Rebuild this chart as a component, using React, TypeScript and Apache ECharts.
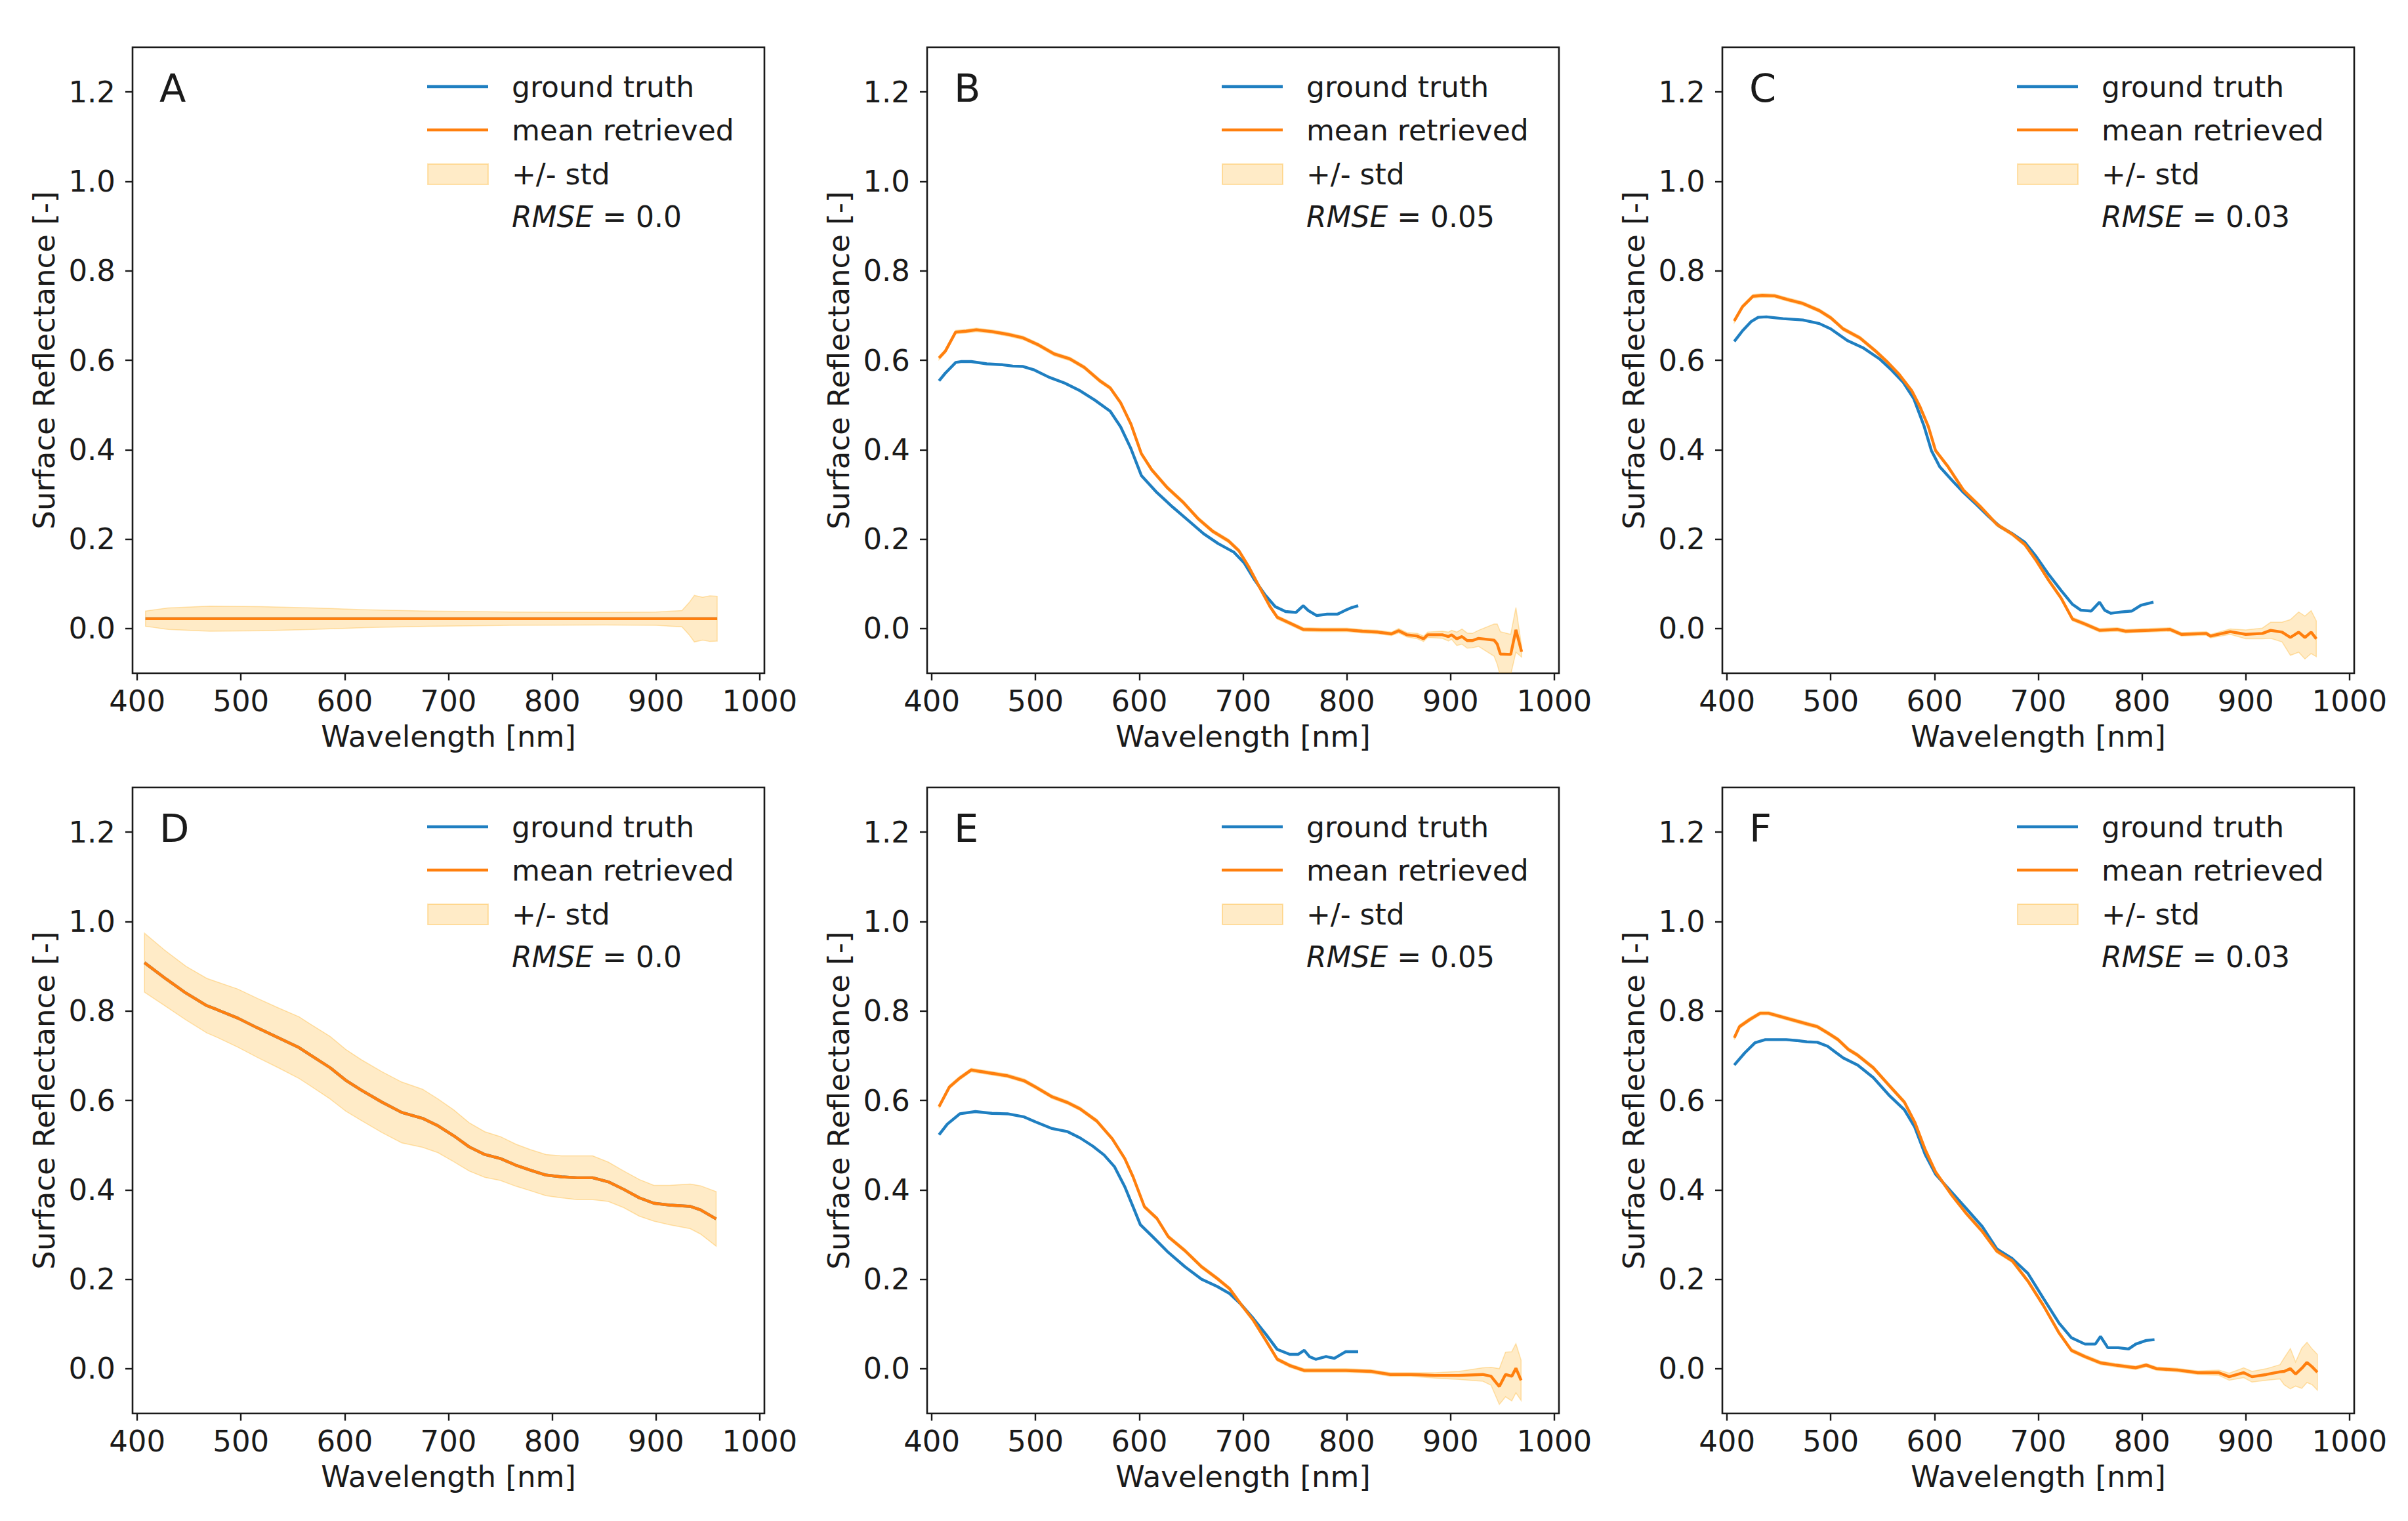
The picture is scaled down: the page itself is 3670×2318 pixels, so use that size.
import React, { useEffect, useRef } from "react";
import * as echarts from "echarts";

// ---------------- data ----------------
const xTicks = [400, 500, 600, 700, 800, 900, 1000];
const yTicks = [0, 0.2, 0.4, 0.6, 0.8, 1.0, 1.2];
const letters = ["A", "B", "C", "D", "E", "F"];
const rmseLabels = ["0.0", "0.05", "0.03", "0.0", "0.05", "0.03"];
const legendLabels = ["ground truth", "mean retrieved", "+/- std"];

// A
const wlA = [408, 430, 470, 520, 570, 620, 680, 760, 850, 900, 925, 932, 937, 945, 952, 959];
const meanA = [0.022, 0.022, 0.022, 0.022, 0.022, 0.022, 0.022, 0.022, 0.022, 0.022, 0.022, 0.022, 0.022, 0.022, 0.022, 0.022];
const stdA = [0.017, 0.024, 0.028, 0.027, 0.024, 0.02, 0.017, 0.015, 0.014, 0.015, 0.018, 0.036, 0.052, 0.048, 0.051, 0.05];
const wlTruthA = wlA;
const truthA = meanA;

// B
const wlB = [407, 413, 423, 433, 443, 458, 473, 488, 503, 518, 533, 547, 562, 572, 582, 592, 602, 612, 627, 642, 657, 671, 686, 696, 706, 716, 726, 733, 746, 758, 776, 800, 815, 830, 843, 850, 858, 868, 874, 878, 892, 898, 901, 906, 911, 916, 921, 927, 942, 945, 948, 958, 963, 968.5];
const meanB = [0.605, 0.62, 0.663, 0.665, 0.668, 0.664, 0.658, 0.65, 0.634, 0.614, 0.603, 0.584, 0.554, 0.538, 0.505, 0.457, 0.391, 0.355, 0.315, 0.283, 0.245, 0.217, 0.196, 0.174, 0.136, 0.092, 0.049, 0.025, 0.011, -0.002, -0.003, -0.003, -0.006, -0.008, -0.012, -0.005, -0.014, -0.017, -0.023, -0.014, -0.014, -0.018, -0.014, -0.023, -0.018, -0.027, -0.027, -0.022, -0.026, -0.035, -0.057, -0.058, -0.003, -0.052];
const stdB = [0.004, 0.004, 0.004, 0.004, 0.004, 0.004, 0.004, 0.004, 0.004, 0.004, 0.004, 0.004, 0.004, 0.004, 0.004, 0.004, 0.004, 0.004, 0.004, 0.004, 0.004, 0.004, 0.004, 0.004, 0.004, 0.004, 0.004, 0.004, 0.004, 0.004, 0.004, 0.004, 0.004, 0.004, 0.004, 0.005, 0.005, 0.006, 0.006, 0.006, 0.008, 0.01, 0.01, 0.015, 0.017, 0.017, 0.016, 0.018, 0.036, 0.045, 0.05, 0.045, 0.05, 0.012];
const wlTruthB = [407, 413, 423, 428, 438, 453, 468, 478, 488, 498, 513, 528, 542, 557, 572, 582, 592, 602, 617, 632, 647, 662, 676, 691, 701, 711, 721, 731, 741, 751, 758, 763, 771, 781, 791, 798, 805, 811];
const truthB = [0.554, 0.571, 0.595, 0.597, 0.597, 0.592, 0.59, 0.587, 0.586, 0.579, 0.562, 0.549, 0.533, 0.511, 0.486, 0.451, 0.402, 0.342, 0.304, 0.272, 0.242, 0.212, 0.19, 0.171, 0.147, 0.109, 0.076, 0.049, 0.038, 0.036, 0.051, 0.04, 0.029, 0.032, 0.032, 0.04, 0.047, 0.051];

// C
const wlC = [407, 415, 425, 434, 446, 458, 473, 489, 500, 512, 528, 543, 555, 566, 578, 586, 594, 601, 613, 628, 644, 660, 675, 687, 698, 710, 722, 733, 745, 759, 776, 784, 807, 827, 838, 862, 866, 885, 900, 916, 924, 935, 943, 951, 957, 963, 968];
const meanC = [0.688, 0.72, 0.743, 0.745, 0.744, 0.736, 0.727, 0.711, 0.695, 0.67, 0.65, 0.621, 0.595, 0.568, 0.532, 0.496, 0.452, 0.398, 0.362, 0.309, 0.273, 0.233, 0.211, 0.188, 0.152, 0.108, 0.068, 0.021, 0.01, -0.004, -0.002, -0.006, -0.004, -0.002, -0.013, -0.011, -0.017, -0.007, -0.013, -0.011, -0.004, -0.008, -0.02, -0.008, -0.02, -0.008, -0.023];
const stdC = [0.004, 0.004, 0.004, 0.004, 0.004, 0.004, 0.004, 0.004, 0.004, 0.004, 0.004, 0.004, 0.004, 0.004, 0.004, 0.004, 0.004, 0.004, 0.004, 0.004, 0.004, 0.004, 0.004, 0.004, 0.004, 0.004, 0.004, 0.004, 0.004, 0.004, 0.004, 0.004, 0.004, 0.004, 0.004, 0.004, 0.004, 0.006, 0.01, 0.012, 0.018, 0.022, 0.04, 0.045, 0.048, 0.048, 0.04];
const wlTruthC = [407, 415, 423, 430, 438, 454, 473, 489, 500, 516, 531, 547, 559, 570, 580, 590, 597, 605, 617, 628, 640, 652, 663, 675, 687, 698, 710, 722, 733, 741, 751, 759, 764, 770, 780, 790, 799, 811];
const truthC = [0.642, 0.666, 0.686, 0.696, 0.697, 0.693, 0.69, 0.682, 0.67, 0.644, 0.628, 0.603, 0.577, 0.55, 0.514, 0.452, 0.398, 0.362, 0.331, 0.304, 0.278, 0.251, 0.228, 0.212, 0.193, 0.161, 0.121, 0.085, 0.054, 0.041, 0.039, 0.059, 0.041, 0.034, 0.037, 0.039, 0.052, 0.059];

// D
const wlD = [407, 427, 447, 467, 477, 497, 516, 536, 556, 566, 586, 601, 616, 636, 655, 675, 690, 705, 720, 735, 750, 765, 779, 794, 809, 824, 839, 854, 869, 884, 898, 913, 933, 943, 958];
const meanD = [0.908, 0.873, 0.84, 0.812, 0.803, 0.784, 0.762, 0.74, 0.718, 0.703, 0.673, 0.645, 0.623, 0.596, 0.573, 0.56, 0.543, 0.521, 0.496, 0.479, 0.47, 0.455, 0.444, 0.433, 0.429, 0.427, 0.427, 0.418, 0.401, 0.382, 0.37, 0.366, 0.363, 0.355, 0.335];
const stdD = [0.066, 0.062, 0.06, 0.061, 0.062, 0.065, 0.066, 0.067, 0.069, 0.069, 0.07, 0.069, 0.068, 0.068, 0.068, 0.065, 0.06, 0.058, 0.054, 0.051, 0.049, 0.047, 0.046, 0.046, 0.047, 0.049, 0.049, 0.044, 0.041, 0.041, 0.04, 0.044, 0.05, 0.054, 0.061];
const wlTruthD = wlD;
const truthD = meanD;

// E
const wlE = [407, 417, 427, 438, 454, 473, 489, 500, 516, 531, 543, 559, 574, 586, 594, 605, 617, 628, 644, 660, 675, 687, 698, 710, 722, 733, 745, 759, 776, 799, 823, 842, 862, 885, 908, 931, 939, 947, 953, 959, 963, 968];
const meanE = [0.586, 0.63, 0.65, 0.668, 0.662, 0.655, 0.644, 0.63, 0.608, 0.595, 0.581, 0.554, 0.514, 0.47, 0.429, 0.362, 0.336, 0.295, 0.264, 0.228, 0.202, 0.179, 0.144, 0.108, 0.063, 0.021, 0.007, -0.004, -0.004, -0.004, -0.006, -0.013, -0.013, -0.015, -0.015, -0.013, -0.017, -0.04, -0.013, -0.017, 0.001, -0.026];
const stdE = [0.004, 0.004, 0.004, 0.004, 0.004, 0.004, 0.004, 0.004, 0.004, 0.004, 0.004, 0.004, 0.004, 0.004, 0.004, 0.004, 0.004, 0.004, 0.004, 0.004, 0.004, 0.004, 0.004, 0.004, 0.004, 0.004, 0.004, 0.004, 0.004, 0.004, 0.004, 0.004, 0.004, 0.006, 0.009, 0.015, 0.02, 0.04, 0.05, 0.055, 0.055, 0.045];
const wlTruthE = [407, 415, 427, 442, 458, 473, 489, 500, 516, 531, 543, 555, 566, 576, 586, 594, 601, 613, 628, 644, 660, 675, 687, 698, 710, 722, 733, 745, 753, 759, 764, 770, 780, 788, 799, 811];
const truthE = [0.523, 0.547, 0.57, 0.575, 0.571, 0.57, 0.563, 0.552, 0.537, 0.53, 0.516, 0.498, 0.478, 0.452, 0.407, 0.362, 0.322, 0.295, 0.26, 0.228, 0.2, 0.184, 0.168, 0.144, 0.112, 0.077, 0.043, 0.032, 0.032, 0.041, 0.027, 0.021, 0.027, 0.023, 0.038, 0.038];

// F
const wlF = [407, 412, 422, 432, 440, 457, 477, 487, 497, 507, 517, 526, 541, 556, 571, 581, 591, 601, 616, 631, 646, 660, 675, 690, 705, 720, 732, 745, 760, 774, 794, 804, 814, 834, 854, 874, 884, 898, 906, 920, 933, 937, 943, 948, 954, 959, 964, 969];
const meanF = [0.74, 0.765, 0.781, 0.795, 0.795, 0.784, 0.771, 0.765, 0.751, 0.736, 0.714, 0.701, 0.673, 0.634, 0.596, 0.551, 0.49, 0.44, 0.39, 0.346, 0.307, 0.263, 0.241, 0.196, 0.141, 0.08, 0.041, 0.027, 0.013, 0.008, 0.002, 0.008, 0.0, -0.003, -0.009, -0.009, -0.018, -0.009, -0.018, -0.013, -0.007, -0.006, 0.0, -0.012, 0.001, 0.014, 0.004, -0.008];
const stdF = [0.004, 0.004, 0.004, 0.004, 0.004, 0.004, 0.004, 0.004, 0.004, 0.004, 0.004, 0.004, 0.004, 0.004, 0.004, 0.004, 0.004, 0.004, 0.004, 0.004, 0.004, 0.004, 0.004, 0.004, 0.004, 0.004, 0.004, 0.004, 0.004, 0.004, 0.004, 0.004, 0.004, 0.004, 0.004, 0.006, 0.008, 0.011, 0.012, 0.013, 0.016, 0.03, 0.045, 0.027, 0.045, 0.045, 0.04, 0.04];
const wlTruthF = [407, 417, 427, 437, 457, 467, 477, 487, 497, 512, 526, 541, 556, 571, 581, 591, 601, 616, 631, 646, 660, 675, 690, 705, 720, 732, 745, 755, 760, 767, 777, 787, 794, 804, 812];
const truthF = [0.679, 0.706, 0.729, 0.736, 0.736, 0.734, 0.731, 0.73, 0.721, 0.695, 0.679, 0.651, 0.612, 0.579, 0.54, 0.479, 0.435, 0.396, 0.357, 0.318, 0.268, 0.246, 0.213, 0.157, 0.102, 0.069, 0.055, 0.055, 0.072, 0.047, 0.047, 0.044, 0.055, 0.063, 0.065];

const panelData = [
  { wl: wlA, mean: meanA, std: stdA, wlT: wlTruthA, truth: truthA },
  { wl: wlB, mean: meanB, std: stdB, wlT: wlTruthB, truth: truthB },
  { wl: wlC, mean: meanC, std: stdC, wlT: wlTruthC, truth: truthC },
  { wl: wlD, mean: meanD, std: stdD, wlT: wlTruthD, truth: truthD },
  { wl: wlE, mean: meanE, std: stdE, wlT: wlTruthE, truth: truthE },
  { wl: wlF, mean: meanF, std: stdF, wlT: wlTruthF, truth: truthF },
];

// ---------------- layout & style ----------------
const COL_LEFT = [202, 1413, 2625];
const ROW_TOP = [72, 1200];
const GW = 963;
const GH = 954;
const X_MIN = 395.5;
const X_MAX = 1004.5;
const Y_MIN = -0.1;
const Y_MAX = 1.3;
const FONT = "DejaVu Sans";
const FS = 45;
const INK = "#1a1a1a";
const BLUE = "#1f7fc1";
const ORANGE = "#ff7f0e";
const BAND = "rgba(255,165,0,0.22)";
const BAND_EDGE = "rgba(255,165,0,0.3)";
const LW = 4.4;

function buildOption() {
  const grid: any[] = [];
  const xAxis: any[] = [];
  const yAxis: any[] = [];
  const series: any[] = [];
  const graphic: any[] = [];

  panelData.forEach((p, i) => {
    const left = COL_LEFT[i % 3];
    const top = ROW_TOP[Math.floor(i / 3)];
    grid.push({
      left,
      top,
      width: GW,
      height: GH,
      show: true,
      borderColor: INK,
      borderWidth: 2.6,
      backgroundColor: "transparent",
      containLabel: false,
      outerBoundsMode: "none",
    });
    xAxis.push({
      type: "value",
      gridIndex: i,
      position: "bottom",
      min: X_MIN,
      max: X_MAX,
      name: "Wavelength [nm]",
      nameLocation: "middle",
      nameGap: 74,
      nameTextStyle: { fontFamily: FONT, fontSize: FS, color: INK },
      axisLine: { show: false, onZero: false },
      splitLine: { show: false },
      axisTick: {
        show: true,
        inside: false,
        length: 11,
        lineStyle: { color: INK, width: 2.4 },
        customValues: xTicks,
      },
      axisLabel: {
        fontFamily: FONT,
        fontSize: FS,
        color: INK,
        margin: 20,
        customValues: xTicks,
        formatter: (v: number) => String(v),
      },
    });
    yAxis.push({
      type: "value",
      gridIndex: i,
      position: "left",
      min: Y_MIN,
      max: Y_MAX,
      name: "Surface Reflectance [-]",
      nameLocation: "middle",
      nameRotate: 90,
      nameGap: 112,
      nameTextStyle: { fontFamily: FONT, fontSize: FS, color: INK },
      axisLine: { show: false, onZero: false },
      splitLine: { show: false },
      axisTick: {
        show: true,
        inside: false,
        length: 11,
        lineStyle: { color: INK, width: 2.4 },
        customValues: yTicks,
      },
      axisLabel: {
        fontFamily: FONT,
        fontSize: FS,
        color: INK,
        margin: 26,
        customValues: yTicks,
        formatter: (v: number) => v.toFixed(1),
      },
    });

    // +/- std band as one polygon (custom series, clipped to the grid)
    const bandRows = p.wl.map((w, j) => [w, p.mean[j] - p.std[j], p.mean[j] + p.std[j]]);
    series.push({
      type: "custom",
      name: "+/- std",
      xAxisIndex: i,
      yAxisIndex: i,
      clip: true,
      silent: true,
      z: 1,
      data: bandRows,
      encode: { x: 0, y: [1, 2] },
      renderItem: (params: any, api: any) => {
        if (params.dataIndex !== 0) return null;
        const upper = bandRows.map((r) => api.coord([r[0], r[2]]));
        const lower = bandRows.map((r) => api.coord([r[0], r[1]])).reverse();
        const cs = params.coordSys;
        return {
          type: "polygon",
          shape: { points: upper.concat(lower) },
          style: { fill: BAND, stroke: BAND_EDGE, lineWidth: 1.5 },
          clipPath: {
            type: "rect",
            shape: { x: cs.x, y: cs.y, width: cs.width, height: cs.height },
          },
        };
      },
    });
    series.push({
      type: "line",
      name: "ground truth",
      xAxisIndex: i,
      yAxisIndex: i,
      data: p.wlT.map((w, j) => [w, p.truth[j]]),
      symbol: "none",
      showSymbol: false,
      silent: true,
      lineStyle: { color: BLUE, width: LW },
      z: 2,
    });
    series.push({
      type: "line",
      name: "mean retrieved",
      xAxisIndex: i,
      yAxisIndex: i,
      data: p.wl.map((w, j) => [w, p.mean[j]]),
      symbol: "none",
      showSymbol: false,
      silent: true,
      lineStyle: { color: ORANGE, width: LW },
      z: 3,
    });

    // panel letter
    graphic.push({
      type: "text",
      x: left + 41,
      y: top + 62,
      silent: true,
      style: {
        text: letters[i],
        fontFamily: FONT,
        fontSize: 59,
        fill: INK,
        align: "left",
        verticalAlign: "middle",
      },
    });
    // legend handles
    graphic.push({
      type: "line",
      silent: true,
      shape: { x1: left + 449, y1: top + 60, x2: left + 542, y2: top + 60 },
      style: { stroke: BLUE, lineWidth: LW },
    });
    graphic.push({
      type: "line",
      silent: true,
      shape: { x1: left + 449, y1: top + 126, x2: left + 542, y2: top + 126 },
      style: { stroke: ORANGE, lineWidth: LW },
    });
    graphic.push({
      type: "rect",
      silent: true,
      shape: { x: left + 450, y: top + 178, width: 92, height: 31 },
      style: { fill: BAND, stroke: BAND_EDGE, lineWidth: 2 },
    });
    const rowsY = [60, 126, 193];
    legendLabels.forEach((t, k) => {
      graphic.push({
        type: "text",
        x: left + 578,
        y: top + rowsY[k],
        silent: true,
        style: {
          text: t,
          fontFamily: FONT,
          fontSize: 44,
          fill: INK,
          align: "left",
          verticalAlign: "middle",
        },
      });
    });
    graphic.push({
      type: "text",
      x: left + 578,
      y: top + 258,
      silent: true,
      style: {
        text: "{i|RMSE}{n| = " + rmseLabels[i] + "}",
        fontFamily: FONT,
        fontSize: 44,
        fill: INK,
        align: "left",
        verticalAlign: "middle",
        rich: {
          i: { fontFamily: FONT, fontSize: 44, fontStyle: "italic", fill: INK },
          n: { fontFamily: FONT, fontSize: 44, fill: INK },
        },
      },
    });
  });

  return {
    animation: false,
    backgroundColor: "#ffffff",
    textStyle: { fontFamily: FONT },
    grid,
    xAxis,
    yAxis,
    series,
    graphic,
  };
}

export default function App() {
  const ref = useRef<HTMLDivElement>(null);
  useEffect(() => {
    if (!ref.current) return;
    const chart = echarts.init(ref.current, null, { renderer: "svg" });
    chart.setOption(buildOption() as any);
    return () => {
      chart.dispose();
    };
  }, []);
  return (
    <div
      ref={ref}
      style={{
        position: "fixed",
        left: 0,
        top: 0,
        width: 3670,
        height: 2318,
        background: "#ffffff",
      }}
    />
  );
}
